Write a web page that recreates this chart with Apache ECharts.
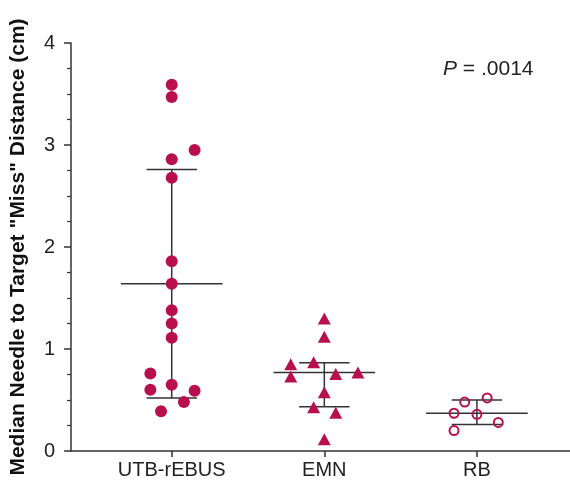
<!DOCTYPE html>
<html>
<head>
<meta charset="utf-8">
<script src="https://cdn.jsdelivr.net/npm/echarts@6/dist/echarts.min.js"></script>
<style>
  html, body { margin: 0; padding: 0; background: #fff; }
  #chart { width: 570px; height: 485px; }
</style>
</head>
<body>
<div id="chart"></div>
<script>
// groups on the x axis
const categories = ['UTB-rEBUS', 'EMN', 'RB'];

// individual values (cm) and horizontal jitter (in category units)
const utbValues = [3.59, 3.47, 2.95, 2.86, 2.68, 1.86, 1.64, 1.38, 1.25, 1.11, 0.76, 0.65, 0.60, 0.59, 0.48, 0.39];
const utbJitter = [0, 0, 0.15, 0, 0, 0, 0, 0, 0, 0, -0.14, 0, -0.14, 0.15, 0.08, -0.07];
const emnValues = [1.30, 1.12, 0.87, 0.85, 0.77, 0.755, 0.73, 0.575, 0.43, 0.375, 0.115];
const emnJitter = [0, 0, -0.07, -0.22, 0.22, 0.075, -0.22, 0, -0.07, 0.075, 0];
const rbValues = [0.52, 0.48, 0.37, 0.36, 0.28, 0.20];
const rbJitter = [0.067, -0.08, -0.15, 0, 0.14, -0.15];

// median and interquartile range per group
const medians = [1.64, 0.77, 0.37];
const upperQ = [2.76, 0.866, 0.50];
const lowerQ = [0.52, 0.435, 0.26];

const yTicks = [0, 1, 2, 3, 4];

const dotColor = '#b8104f';
const lineColor = '#333';
const font = 'Liberation Sans, Arial, Helvetica, sans-serif';

const chart = echarts.init(document.getElementById('chart'));

function points(values, jitter, idx) {
    return values.map((v, i) => [idx + 1 + jitter[i], v]);
}

const option = {
    animation: false,
    textStyle: { fontFamily: font },
    title: {
        text: '{i|P} = .0014',
        left: 438,
        top: 54,
        textStyle: {
            fontFamily: font,
            fontSize: 21,
            fontWeight: 'normal',
            color: '#222',
            rich: { i: { fontStyle: 'italic', fontSize: 21, fontFamily: font, color: '#222' } }
        }
    },
    grid: { left: 70, right: 0, top: 43, bottom: 34 },
    xAxis: {
        type: 'value',
        min: 0.34,
        max: 3.61,
        axisLine: { show: true, lineStyle: { color: lineColor, width: 1.5 } },
        axisTick: { show: true, length: 6, customValues: [1, 2, 3], lineStyle: { color: lineColor, width: 1.5 } },
        axisLabel: {
            customValues: [1, 2, 3],
            formatter: v => categories[Math.round(v) - 1],
            fontSize: 20,
            color: '#222',
            margin: 9
        },
        splitLine: { show: false }
    },
    yAxis: {
        type: 'value',
        min: 0,
        max: 4,
        interval: 1,
        name: 'Median Needle to Target "Miss" Distance (cm)',
        nameLocation: 'middle',
        nameGap: 42,
        nameTextStyle: { fontSize: 21, fontWeight: 'bold', color: '#111', fontFamily: font },
        axisLine: { show: true, lineStyle: { color: lineColor, width: 1.5 } },
        axisTick: { show: true, length: 7, lineStyle: { color: lineColor, width: 1.5 } },
        minorTick: { show: true, splitNumber: 4, length: 4, lineStyle: { color: lineColor, width: 1.2 } },
        axisLabel: {
            customValues: yTicks,
            fontSize: 20,
            color: '#222',
            margin: 16
        },
        splitLine: { show: false }
    },
    series: [
        {
            type: 'custom',
            z: 1,
            renderItem: function (params, api) {
                const i = api.value(0);
                const x = i + 1;
                const med = api.value(1), lo = api.value(2), hi = api.value(3);
                const seg = (x1, y1, x2, y2) => {
                    const a = api.coord([x1, y1]);
                    const b = api.coord([x2, y2]);
                    return {
                        type: 'line',
                        shape: { x1: a[0], y1: a[1], x2: b[0], y2: b[1] },
                        style: { stroke: lineColor, lineWidth: 1.5 }
                    };
                };
                return {
                    type: 'group',
                    children: [
                        seg(x - 0.333, med, x + 0.333, med),
                        seg(x, lo, x, hi),
                        seg(x - 0.165, lo, x + 0.165, lo),
                        seg(x - 0.165, hi, x + 0.165, hi)
                    ]
                };
            },
            data: categories.map((c, i) => [i, medians[i], lowerQ[i], upperQ[i]])
        },
        {
            name: categories[0],
            type: 'scatter',
            z: 3,
            symbol: 'circle',
            symbolSize: 12,
            itemStyle: { color: dotColor, opacity: 1 },
            data: points(utbValues, utbJitter, 0)
        },
        {
            name: categories[1],
            type: 'scatter',
            z: 3,
            symbol: 'triangle',
            symbolSize: [13, 12],
            itemStyle: { color: dotColor, opacity: 1 },
            data: points(emnValues, emnJitter, 1)
        },
        {
            name: categories[2],
            type: 'scatter',
            z: 3,
            symbol: 'circle',
            symbolSize: 9,
            itemStyle: { color: 'transparent', borderColor: dotColor, borderWidth: 2, opacity: 1 },
            data: points(rbValues, rbJitter, 2)
        }
    ]
};

chart.setOption(option);
</script>
</body>
</html>
